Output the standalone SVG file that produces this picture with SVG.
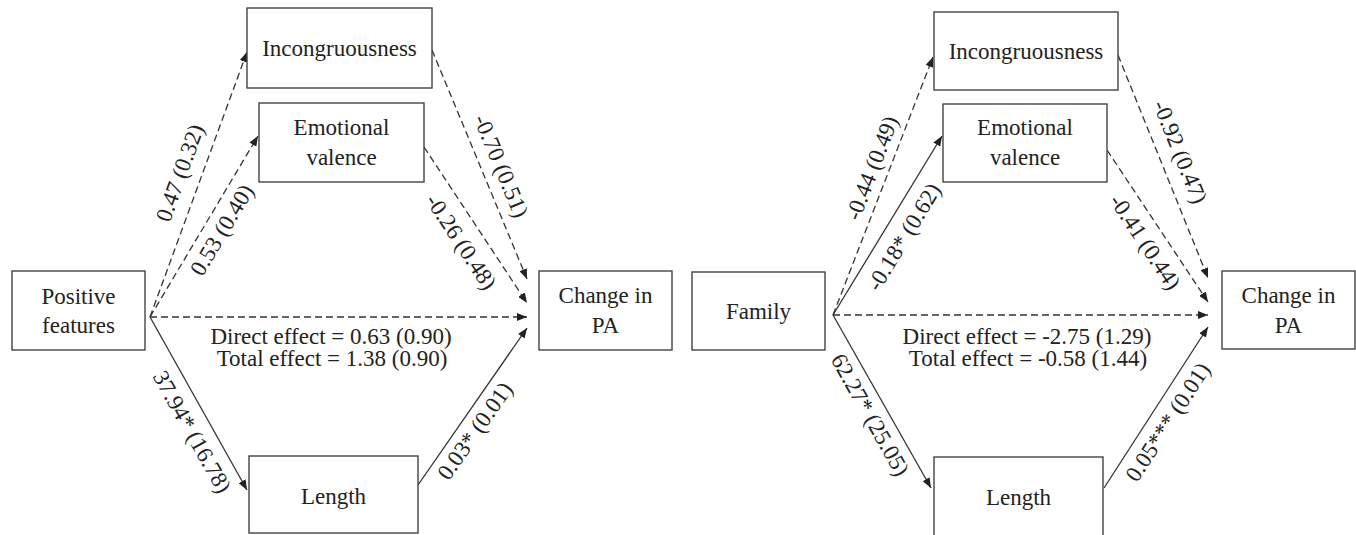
<svg xmlns="http://www.w3.org/2000/svg" width="1356" height="535" viewBox="0 0 1356 535">
<style>
text{font-family:'Liberation Serif','Times New Roman','DejaVu Serif',serif;font-size:23px;fill:#222;}
.n{text-anchor:middle;}
.lbl{text-anchor:middle;dominant-baseline:central;}
rect{fill:#fff;stroke:#444;stroke-width:1.4;}
.e{stroke:#333;stroke-width:1.3;fill:none;marker-end:url(#ah);}
.d{stroke-dasharray:7 4;}
</style>
<defs>
<marker id="ah" markerUnits="userSpaceOnUse" markerWidth="10" markerHeight="8" refX="10" refY="4" orient="auto">
<path d="M0,0 L10,4 L0,8 Z" fill="#222"/>
</marker>
</defs>
<rect width="1356" height="535" style="fill:#fff;stroke:none"/>
<g id="connectors">
<line class="e d" x1="150" y1="317" x2="247" y2="52"/>
<line class="e d" x1="150" y1="317" x2="258" y2="136"/>
<line class="e d" x1="150" y1="317" x2="527" y2="317"/>
<line class="e" x1="150" y1="317" x2="247" y2="490"/>
<line class="e d" x1="432" y1="50" x2="527" y2="279"/>
<line class="e d" x1="424" y1="147" x2="527" y2="303"/>
<line class="e" x1="418" y1="485" x2="527" y2="328"/>
<line class="e d" x1="833" y1="315" x2="933" y2="57"/>
<line class="e" x1="833" y1="315" x2="942" y2="136"/>
<line class="e d" x1="833" y1="315" x2="1208" y2="315"/>
<line class="e" x1="833" y1="315" x2="931" y2="488"/>
<line class="e d" x1="1118" y1="55" x2="1208" y2="278"/>
<line class="e d" x1="1107" y1="150" x2="1208" y2="302"/>
<line class="e" x1="1104" y1="488" x2="1208" y2="327"/>
</g>
<g id="labels" font-family="'Liberation Serif', 'Times New Roman', serif">
<text class="lbl" transform="translate(180,173) rotate(-70)">0.47 (0.32)</text>
<text class="lbl" transform="translate(222,230) rotate(-59)">0.53 (0.40)</text>
<text class="lbl" transform="translate(501,166) rotate(67.5)">-0.70 (0.51)</text>
<text class="lbl" transform="translate(461,242) rotate(56.6)">-0.26 (0.48)</text>
<text class="lbl" transform="translate(192,432) rotate(60.7)">37.94* (16.78)</text>
<text class="lbl" transform="translate(475,431) rotate(-55)">0.03* (0.01)</text>
<text class="n" x="331" y="344">Direct effect = 0.63 (0.90)</text>
<text class="n" x="332" y="366">Total effect = 1.38 (0.90)</text>
<text class="lbl" transform="translate(872,168) rotate(-68.8)">-0.44 (0.49)</text>
<text class="lbl" transform="translate(904,237) rotate(-58.7)">-0.18* (0.62)</text>
<text class="lbl" transform="translate(1180,152) rotate(68)">-0.92 (0.47)</text>
<text class="lbl" transform="translate(1145,242) rotate(56.4)">-0.41 (0.44)</text>
<text class="lbl" transform="translate(870,415) rotate(60.7)">62.27* (25.05)</text>
<text class="lbl" transform="translate(1168,422) rotate(-57.1)">0.05*** (0.01)</text>
<text class="n" x="1027" y="344">Direct effect = -2.75 (1.29)</text>
<text class="n" x="1028" y="366">Total effect = -0.58 (1.44)</text>
</g>
<g id="incong-left"><rect x="247" y="8" width="185" height="80"/><text class="n" x="339.5" y="56">Incongruousness</text></g>
<g id="emot-left"><rect x="259" y="103" width="165" height="79"/><text class="n" x="341.5" y="135">Emotional</text><text class="n" x="341.5" y="165">valence</text></g>
<g id="positive"><rect x="12" y="271" width="133" height="79"/><text class="n" x="78.5" y="304">Positive</text><text class="n" x="78.5" y="333">features</text></g>
<g id="length-left"><rect x="249" y="456" width="169" height="77"/><text class="n" x="333.5" y="504">Length</text></g>
<g id="change-left"><rect x="539" y="271" width="133" height="79"/><text class="n" x="605.5" y="303">Change in</text><text class="n" x="605.5" y="333">PA</text></g>
<g id="incong-right"><rect x="934" y="12" width="184" height="78"/><text class="n" x="1026" y="59">Incongruousness</text></g>
<g id="emot-right"><rect x="943" y="104" width="164" height="78"/><text class="n" x="1025" y="135">Emotional</text><text class="n" x="1025" y="165">valence</text></g>
<g id="family"><rect x="692" y="272" width="133" height="78"/><text class="n" x="758.5" y="319">Family</text></g>
<g id="length-right"><rect x="934" y="457" width="169" height="90"/><text class="n" x="1018.5" y="505">Length</text></g>
<g id="change-right"><rect x="1222" y="271" width="133" height="78"/><text class="n" x="1288.5" y="303">Change in</text><text class="n" x="1288.5" y="333">PA</text></g>
</svg>
